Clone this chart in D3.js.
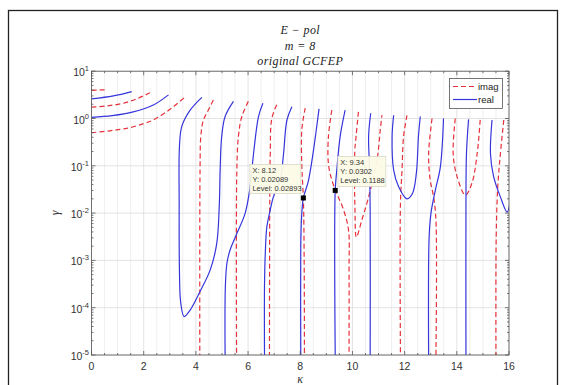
<!DOCTYPE html>
<html>
<head>
<meta charset="utf-8">
<script src="https://cdn.jsdelivr.net/npm/d3@7"></script>
<style>
  body { margin: 0; background: #fff; }
  svg { display: block; }
  .serif { font-family: 'Liberation Serif', 'DejaVu Serif', serif; font-style: italic; }
</style>
</head>
<body>
<div id="chart"></div>
<script>
// tick values
const xTicks = [0, 2, 4, 6, 8, 10, 12, 14, 16];
const yTickExps = [1, 0, -1, -2, -3, -4, -5];

// zero contours of the imaginary part, points are [kappa, gamma]
const imagCurves = [
  [[0, 3.95], [0.3, 4.0], [0.55, 4.05]],
  [[0, 1.74], [0.6, 1.85], [1.22, 2.1], [1.8, 2.7], [2.24, 3.5]],
  [[0, 0.5], [0.7, 0.55], [1.35, 0.62], [2.0, 0.78], [2.37, 0.93], [2.8, 1.3], [3.14, 1.78], [3.57, 2.8]],
  [[4.67, 2.45], [4.45, 1.4], [4.29, 0.93], [4.19, 0.42], [4.16, 0.081], [4.15, 1e-5]],
  [[6.01, 2.3], [5.76, 1.1], [5.63, 0.42], [5.57, 0.081], [5.56, 1e-5]],
  [[7.1, 1.95], [6.91, 1.0], [6.85, 0.18], [6.83, 0.01], [6.82, 1e-5]],
  [[8.19, 1.66], [8.06, 0.58], [8.06, 0.1], [8.12, 0.02], [8.15, 0.001], [8.16, 1e-5]],
  [[9.21, 1.5], [9.08, 0.42], [9.08, 0.11], [9.21, 0.05], [9.4, 0.026], [9.66, 0.0117], [9.85, 0.0044], [9.87, 0.00063], [9.87, 1e-5]],
  [[10.23, 1.38], [10.14, 0.42], [10.09, 0.2], [10.1, 0.01], [10.15, 0.0031], [10.36, 0.0071], [10.6, 0.02], [10.94, 0.13], [11.07, 0.6], [11.13, 1.17]],
  [[12.09, 1.17], [11.96, 0.42], [11.9, 0.081], [11.84, 0.016], [11.84, 1e-5]],
  [[13.05, 1.0], [12.92, 0.18], [12.98, 0.05], [13.11, 0.022], [13.2, 0.0071], [13.2, 1e-5]],
  [[13.94, 1.0], [13.86, 0.18], [14.01, 0.059], [14.33, 0.024], [14.58, 0.043], [14.78, 0.18], [14.9, 1.0]],
  [[15.8, 0.93], [15.67, 0.18], [15.57, 0.036], [15.51, 0.0032], [15.5, 1e-5]]
];

// zero contours of the real part
const realCurves = [
  [[0, 2.6], [0.84, 3.0], [1.54, 3.7]],
  [[0, 1.06], [0.8, 1.15], [1.6, 1.38], [2.37, 1.93], [2.95, 3.16]],
  [[4.23, 2.8], [3.78, 1.5], [3.46, 0.68], [3.37, 0.25], [3.36, 0.016], [3.37, 0.00063], [3.42, 0.000126], [3.55, 0.000065], [3.78, 0.000089], [4.16, 0.00022], [4.55, 0.00063], [4.8, 0.0023], [4.9, 0.016], [4.93, 0.081], [4.99, 0.42], [5.12, 1.1], [5.44, 2.3]],
  [[6.57, 2.1], [6.4, 1.1], [6.21, 0.18], [6.08, 0.036], [5.89, 0.01], [5.57, 0.0037], [5.31, 0.00166], [5.19, 0.00087], [5.13, 0.00028], [5.12, 1e-5]],
  [[7.68, 1.78], [7.49, 0.93], [7.36, 0.18], [7.23, 0.05], [6.97, 0.022], [6.85, 0.0117], [6.72, 0.0051], [6.66, 0.0014], [6.63, 0.00028], [6.63, 1e-5]],
  [[8.72, 1.6], [8.6, 0.5], [8.45, 0.13], [8.3, 0.045], [8.12, 0.0209], [8.05, 0.008], [8.02, 0.002], [8.02, 1e-5]],
  [[9.72, 1.5], [9.53, 0.42], [9.4, 0.081], [9.34, 0.0302], [9.34, 1e-5]],
  [[10.7, 1.29], [10.62, 0.42], [10.66, 0.08], [10.68, 0.01], [10.68, 1e-5]],
  [[11.58, 1.17], [11.52, 0.42], [11.58, 0.081], [11.77, 0.036], [12.09, 0.02], [12.3, 0.026], [12.45, 0.07], [12.53, 0.42], [12.6, 1.1]],
  [[13.49, 1.0], [13.37, 0.095], [13.18, 0.031], [13.01, 0.01], [12.94, 0.0032], [12.92, 1e-5]],
  [[14.45, 0.96], [14.37, 0.18], [14.35, 0.01], [14.35, 1e-5]],
  [[15.35, 0.93], [15.29, 0.18], [15.41, 0.059], [15.67, 0.022], [15.93, 0.0105], [16.05, 0.02]]
];

// data tips
const tipX = [8.12, 9.34];
const tipY = [0.02089, 0.0302];
const tipLevel = ['0.02893', '0.1188'];
const tipYText = ['0.02089', '0.0302'];

const W = 563, H = 385;
const plot = {left: 91.5, right: 509, top: 71.2, bottom: 355};
const blue = '#3535dc';
const red = '#e5323a';

const svg = d3.select('#chart').append('svg')
  .attr('width', W).attr('height', H)
  .style('font-family', 'Liberation Sans, Arial, sans-serif');

// figure border
svg.append('rect')
  .attr('x', 8.5).attr('y', 10.5)
  .attr('width', 549).attr('height', 390)
  .attr('fill', 'none').attr('stroke', '#222').attr('stroke-width', 1.3);

const x = d3.scaleLinear().domain([0, 16]).range([plot.left, plot.right]);
const y = d3.scaleLog().domain([1e-5, 10]).range([plot.bottom, plot.top]);

// minor x grid
const xMinor = d3.range(0.5, 16, 0.5).filter(v => v % 2 !== 0);
svg.append('g').selectAll('line').data(xMinor).join('line')
  .attr('x1', d => x(d)).attr('x2', d => x(d))
  .attr('y1', plot.top).attr('y2', plot.bottom)
  .attr('stroke', '#ebebeb').attr('stroke-width', 0.8);

// major grid
svg.append('g').selectAll('line').data(xTicks).join('line')
  .attr('x1', d => x(d)).attr('x2', d => x(d))
  .attr('y1', plot.top).attr('y2', plot.bottom)
  .attr('stroke', '#dcdcdc').attr('stroke-width', 0.8);
svg.append('g').selectAll('line').data(yTickExps).join('line')
  .attr('x1', plot.left).attr('x2', plot.right)
  .attr('y1', d => y(Math.pow(10, d))).attr('y2', d => y(Math.pow(10, d)))
  .attr('stroke', '#dcdcdc').attr('stroke-width', 0.8);

// curves
const line = d3.line()
  .x(d => x(d[0]))
  .y(d => y(d[1]))
  .curve(d3.curveCatmullRom.alpha(0.5));

svg.append('defs').append('clipPath').attr('id', 'clip')
  .append('rect')
  .attr('x', plot.left).attr('y', plot.top)
  .attr('width', plot.right - plot.left).attr('height', plot.bottom - plot.top);

const curves = svg.append('g').attr('clip-path', 'url(#clip)');
curves.selectAll('path.imag').data(imagCurves).join('path')
  .attr('class', 'imag')
  .attr('d', line)
  .attr('fill', 'none')
  .attr('stroke', red)
  .attr('stroke-width', 1.2)
  .attr('stroke-dasharray', '5,3');
curves.selectAll('path.real').data(realCurves).join('path')
  .attr('class', 'real')
  .attr('d', line)
  .attr('fill', 'none')
  .attr('stroke', blue)
  .attr('stroke-width', 1.2);

// axes box and ticks
const axisColor = '#555';
svg.append('rect')
  .attr('x', plot.left).attr('y', plot.top)
  .attr('width', plot.right - plot.left).attr('height', plot.bottom - plot.top)
  .attr('fill', 'none').attr('stroke', axisColor).attr('stroke-width', 0.8);

const ticks = svg.append('g').attr('stroke', axisColor).attr('stroke-width', 0.8);
xTicks.forEach(v => {
  ticks.append('line').attr('x1', x(v)).attr('x2', x(v)).attr('y1', plot.bottom).attr('y2', plot.bottom - 4);
  ticks.append('line').attr('x1', x(v)).attr('x2', x(v)).attr('y1', plot.top).attr('y2', plot.top + 4);
});
xMinor.forEach(v => {
  ticks.append('line').attr('x1', x(v)).attr('x2', x(v)).attr('y1', plot.bottom).attr('y2', plot.bottom - 2);
  ticks.append('line').attr('x1', x(v)).attr('x2', x(v)).attr('y1', plot.top).attr('y2', plot.top + 2);
});
yTickExps.forEach(e => {
  const yy = y(Math.pow(10, e));
  ticks.append('line').attr('x1', plot.left).attr('x2', plot.left + 4).attr('y1', yy).attr('y2', yy);
  ticks.append('line').attr('x1', plot.right).attr('x2', plot.right - 4).attr('y1', yy).attr('y2', yy);
  if (e > -5) {
    for (let m = 2; m <= 9; m++) {
      const ym = y(m * Math.pow(10, e - 1));
      ticks.append('line').attr('x1', plot.left).attr('x2', plot.left + 2).attr('y1', ym).attr('y2', ym);
      ticks.append('line').attr('x1', plot.right).attr('x2', plot.right - 2).attr('y1', ym).attr('y2', ym);
    }
  }
});

// tick labels
svg.append('g').selectAll('text').data(xTicks).join('text')
  .attr('x', d => x(d)).attr('y', 369.5)
  .attr('text-anchor', 'middle')
  .attr('font-size', 10.5).attr('fill', '#333')
  .text(d => d);

const yl = svg.append('g').selectAll('text').data(yTickExps).join('text')
  .attr('x', 85).attr('y', d => y(Math.pow(10, d)) + 5)
  .attr('font-size', 10.5).attr('fill', '#333');
yl.append('tspan').text('10');
yl.append('tspan').attr('dy', -5).attr('font-size', 7.5).text(d => d);
// right align the whole label against the axis
yl.each(function () {
  const bb = this.getBBox();
  d3.select(this).attr('x', 89 - bb.width);
});

// axis labels
svg.append('text')
  .attr('class', 'serif')
  .attr('x', x(8)).attr('y', 383)
  .attr('text-anchor', 'middle')
  .attr('font-size', 12).attr('fill', '#333')
  .text('κ');
svg.append('text')
  .attr('class', 'serif')
  .attr('transform', 'translate(59,213) rotate(-90)')
  .attr('text-anchor', 'middle')
  .attr('font-size', 12).attr('fill', '#333')
  .text('γ');

// title
const titleLines = [['E − pol', 34], ['m = 8', 49.5], ['original GCFEP', 65]];
svg.append('g').selectAll('text').data(titleLines).join('text')
  .attr('class', 'serif')
  .attr('x', x(8)).attr('y', d => d[1])
  .attr('text-anchor', 'middle')
  .attr('font-size', 12).attr('fill', '#222')
  .attr('letter-spacing', 0.4)
  .text(d => d[0]);

// legend
const lg = svg.append('g');
lg.append('rect').attr('x', 449.5).attr('y', 78.5).attr('width', 53).attr('height', 30)
  .attr('fill', '#fff').attr('stroke', '#555').attr('stroke-width', 0.8);
lg.append('line').attr('x1', 453).attr('x2', 477).attr('y1', 86.5).attr('y2', 86.5)
  .attr('stroke', red).attr('stroke-width', 1.2).attr('stroke-dasharray', '5,3');
lg.append('line').attr('x1', 453).attr('x2', 477).attr('y1', 99.5).attr('y2', 99.5)
  .attr('stroke', blue).attr('stroke-width', 1.2);
lg.append('text').attr('x', 478).attr('y', 90).attr('font-size', 9.5).attr('fill', '#222').text('imag');
lg.append('text').attr('x', 478).attr('y', 103).attr('font-size', 9.5).attr('fill', '#222').text('real');

// data tips
const tipOffsets = [{dx: -53.5, dy: -33.5, w: 51, h: 29}, {dx: 2.6, dy: -34, w: 48, h: 30}];
tipX.forEach((tx, i) => {
  const mx = x(tx), my = y(tipY[i]);
  const o = tipOffsets[i];
  const g = svg.append('g');
  g.append('rect')
    .attr('x', mx + o.dx).attr('y', my + o.dy).attr('width', o.w).attr('height', o.h)
    .attr('fill', '#fbfbe6').attr('fill-opacity', 0.95)
    .attr('stroke', '#d8d8c8').attr('stroke-width', 0.8);
  const lines = ['X: ' + tx, 'Y: ' + tipYText[i], 'Level: ' + tipLevel[i]];
  lines.forEach((t, j) => {
    g.append('text')
      .attr('x', mx + o.dx + 2.5).attr('y', my + o.dy + 8.5 + j * 9)
      .attr('font-size', 7.5).attr('fill', '#333')
      .text(t);
  });
  g.append('rect')
    .attr('x', mx - 2.5).attr('y', my - 2.5).attr('width', 5).attr('height', 5)
    .attr('fill', '#000');
});
</script>
</body>
</html>
